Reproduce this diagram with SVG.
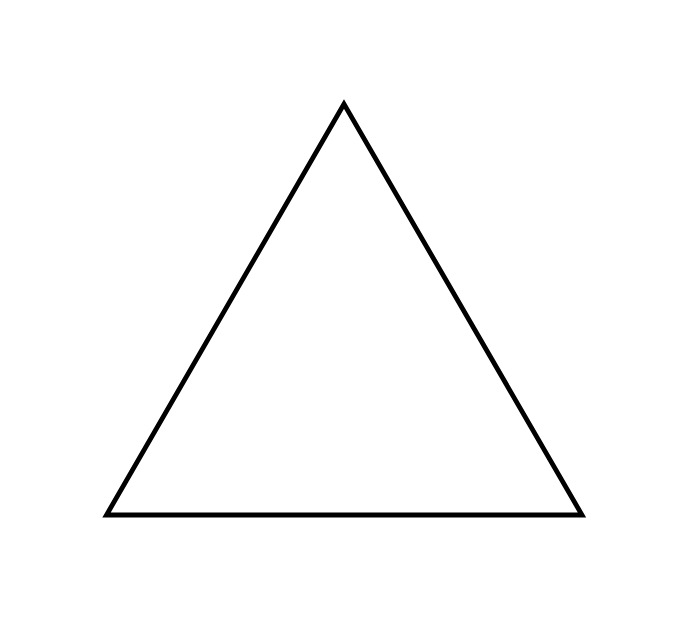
<svg xmlns="http://www.w3.org/2000/svg" width="682" height="620" viewBox="0 0 682 620">
<style>.tri{fill:#fff;stroke:#000;stroke-width:4.8;stroke-linejoin:miter}</style>
<rect width="682" height="620" fill="#fff"/>
<g id="triangle"><polygon class="tri" points="344,104 106.5,515 582,515"/></g>
<g id="connectors"/>
</svg>
